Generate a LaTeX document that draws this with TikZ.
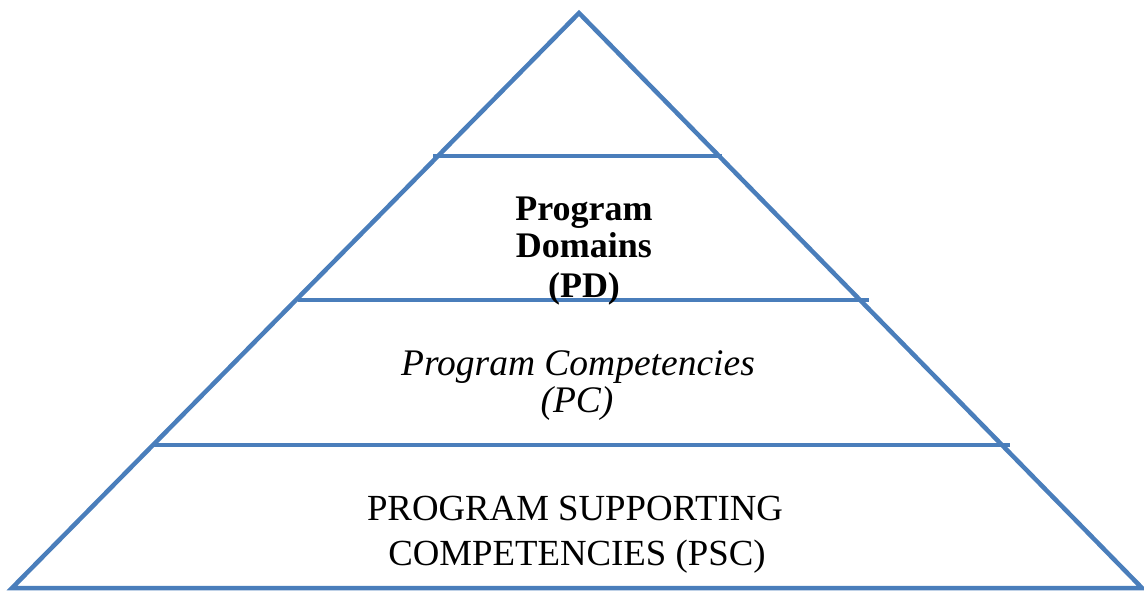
\documentclass[tikz,border=0pt]{standalone}
\usepackage{fontspec}
\setmainfont{Liberation Serif}
\definecolor{pyrblue}{RGB}{74,126,187}
\begin{document}
\begin{tikzpicture}[x=1pt,y=-1pt,
  edge/.style={draw=pyrblue,line width=4.5pt},
  lbl/.style={anchor=base,inner sep=0pt,font=\fontsize{36.8}{40}\selectfont},
  lblb/.style={lbl,font=\fontsize{36}{40}\selectfont\bfseries},
  lbli/.style={lbl,font=\fontsize{37.5}{40}\selectfont\itshape}]
\useasboundingbox (0,0) rectangle (1144,591);
\coordinate (apex) at (579,13);
\coordinate (bl) at (12,588);
\coordinate (br) at (1142,588);
\coordinate (a1) at (433,156); \coordinate (b1) at (722,156);
\coordinate (a2) at (298,300); \coordinate (b2) at (869,300);
\coordinate (a3) at (153,445); \coordinate (b3) at (1010,445);
\draw[edge,line join=miter] (apex) -- (br) -- (bl) -- cycle;
\draw[edge] (a1) -- (b1);
\draw[edge] (a2) -- (b2);
\draw[edge] (a3) -- (b3);
\node[lblb] (pd1) at (584,220) {Program};
\node[lblb] (pd2) at (584,258) {Domains};
\node[lblb] (pd3) at (584,297) {(PD)};
\node[lbli] (pc1) at (578,375) {Program Competencies};
\node[lbli] (pc2) at (577,412) {(PC)};
\node[lbl] (psc1) at (575,520) {PROGRAM SUPPORTING};
\node[lbl] (psc2) at (577,565) {COMPETENCIES (PSC)};
\end{tikzpicture}
\end{document}
